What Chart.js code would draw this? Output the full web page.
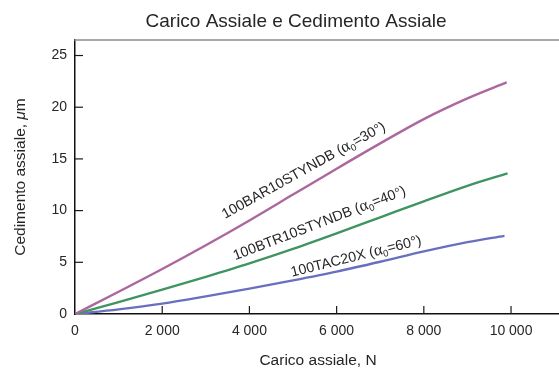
<!DOCTYPE html>
<html>
<head>
<meta charset="utf-8">
<script src="https://cdn.jsdelivr.net/npm/chart.js@4/dist/chart.umd.min.js"></script>
<style>
html,body{margin:0;padding:0;background:#fff;}
canvas{display:block;}
</style>
</head>
<body>
<canvas id="c" width="559" height="368"></canvas>
<script>
// ---- Data ----
const barLoad = [0,1000,2000,3000,4000,5000,6000,7000,8000,9000,9900];
const barVal  = [0,2.15,4.35,6.65,9.05,11.55,14.05,16.5,18.85,20.85,22.4];
const btrLoad = [0,1000,2000,3000,4000,5000,6000,7000,8000,9000,9920];
const btrVal  = [0,1.15,2.35,3.6,4.9,6.3,7.8,9.35,10.9,12.4,13.6];
const tacLoad = [0,1000,2000,3000,4000,5000,6000,7000,8000,9000,9850];
const tacVal  = [0,0.45,1.0,1.7,2.45,3.25,4.1,5.05,6.05,6.95,7.56];

const seriesNames = ['100BAR10STYNDB','100BTR10STYNDB','100TAC20X'];
const seriesAlpha = ['30°','40°','60°'];
// label anchors in data units (load N, settlement µm)
const labelLoad = [3440,3674,4976];
const labelVal  = [9.2,5.2,3.6];
const labelAngleDeg = [29,21,14];

const xTickValues = [0,2000,4000,6000,8000,10000];
const yTickValues = [0,5,10,15,20,25];

const titleText = 'Carico Assiale e Cedimento Assiale';
const xTitle = 'Carico assiale, N';
const yTitleParts = ['Cedimento assiale, ','μ','m'];

const colors = ['#ab679e','#3f9461','#6870be'];
const FONT = '"Liberation Sans", Arial, Helvetica, sans-serif';

function pts(xs, ys){ return xs.map((x,i)=>({x:x,y:ys[i]})); }
function fmt(v){ if(v===0) return '0'; const k=Math.floor(v/1000); const r=String(v%1000).padStart(3,'0'); return k+' '+r; }

function rich(ctx, segs, x, y, angle, align){
  ctx.save();
  ctx.translate(x,y);
  ctx.rotate(angle);
  ctx.textBaseline='alphabetic';
  ctx.textAlign='left';
  let w=0;
  segs.forEach(s=>{ctx.font=s.f; w+=ctx.measureText(s.t).width;});
  let cx = align==='center' ? -w/2 : 0;
  segs.forEach(s=>{ctx.font=s.f; ctx.fillText(s.t,cx,s.dy||0); cx+=ctx.measureText(s.t).width;});
  ctx.restore();
}

const deco = {
  id:'deco',
  afterDraw(chart){
    const ctx=chart.ctx, ca=chart.chartArea, xs=chart.scales.x, ys=chart.scales.y;
    ctx.save();
    // top frame line
    ctx.strokeStyle='#8c8c8c'; ctx.lineWidth=1.5;
    ctx.beginPath(); ctx.moveTo(ca.left-0.75, ca.top); ctx.lineTo(ca.right, ca.top); ctx.stroke();
    // inward tick marks
    ctx.strokeStyle='#1a1a1a'; ctx.lineWidth=1.2;
    xs.ticks.forEach(t=>{
      const p=xs.getPixelForValue(t.value);
      if(p<ca.left+2) return;
      ctx.beginPath(); ctx.moveTo(p, ca.bottom); ctx.lineTo(p, ca.bottom-8); ctx.stroke();
    });
    ys.ticks.forEach(t=>{
      const p=ys.getPixelForValue(t.value);
      if(p>ca.bottom-2) return;
      ctx.beginPath(); ctx.moveTo(ca.left, p); ctx.lineTo(ca.left+8, p); ctx.stroke();
    });
    ctx.fillStyle='#262626';
    // chart title
    rich(ctx,[{t:titleText,f:'19px '+FONT}],296,27,0,'center');
    // x title
    rich(ctx,[{t:xTitle,f:'15.5px '+FONT}],318,364.5,0,'center');
    // y title
    rich(ctx,[
      {t:yTitleParts[0],f:'15.5px '+FONT},
      {t:yTitleParts[1],f:'italic 15.5px '+FONT},
      {t:yTitleParts[2],f:'15.5px '+FONT}
    ],24.5,(ca.top+ca.bottom)/2,-Math.PI/2,'center');
    // curve labels
    for(let i=0;i<seriesNames.length;i++){
      const x=xs.getPixelForValue(labelLoad[i]);
      const y=ys.getPixelForValue(labelVal[i]);
      rich(ctx,[
        {t:seriesNames[i]+' (',f:'14.3px '+FONT},
        {t:'α',f:'16.5px "Liberation Serif", "DejaVu Serif", serif'},
        {t:'0',f:'9.5px '+FONT,dy:3},
        {t:'='+seriesAlpha[i]+')',f:'14.3px '+FONT}
      ],x,y,-labelAngleDeg[i]*Math.PI/180,'left');
    }
    ctx.restore();
  }
};

new Chart(document.getElementById('c'),{
  type:'line',
  data:{
    datasets:[
      {label:seriesNames[0],data:pts(barLoad,barVal),borderColor:colors[0]},
      {label:seriesNames[1],data:pts(btrLoad,btrVal),borderColor:colors[1]},
      {label:seriesNames[2],data:pts(tacLoad,tacVal),borderColor:colors[2]}
    ]
  },
  options:{
    responsive:false,
    animation:false,
    devicePixelRatio:1,
    layout:{padding:{top:40,left:0,right:0,bottom:0}},
    elements:{
      point:{radius:0,hoverRadius:0},
      line:{borderWidth:2.4,cubicInterpolationMode:'monotone',fill:false,borderCapStyle:'butt'}
    },
    plugins:{legend:{display:false},title:{display:false},tooltip:{enabled:false}},
    scales:{
      x:{
        type:'linear',min:0,max:11100,
        afterFit(s){s.height=54;},
        afterBuildTicks(s){s.ticks=xTickValues.map(v=>({value:v}));},
        grid:{display:false,drawTicks:false},
        border:{display:true,color:'#111',width:1.5},
        ticks:{padding:9,color:'#262626',font:{family:FONT,size:14},maxRotation:0,autoSkip:false,callback:v=>fmt(v)}
      },
      y:{
        type:'linear',min:0,max:26.5,
        afterFit(s){s.width=75;},
        afterBuildTicks(s){s.ticks=yTickValues.map(v=>({value:v}));},
        grid:{display:false,drawTicks:false},
        border:{display:true,color:'#111',width:1.5},
        ticks:{padding:8,color:'#262626',font:{family:FONT,size:14},autoSkip:false,callback:v=>String(v)}
      }
    }
  },
  plugins:[deco]
});
</script>
</body>
</html>
